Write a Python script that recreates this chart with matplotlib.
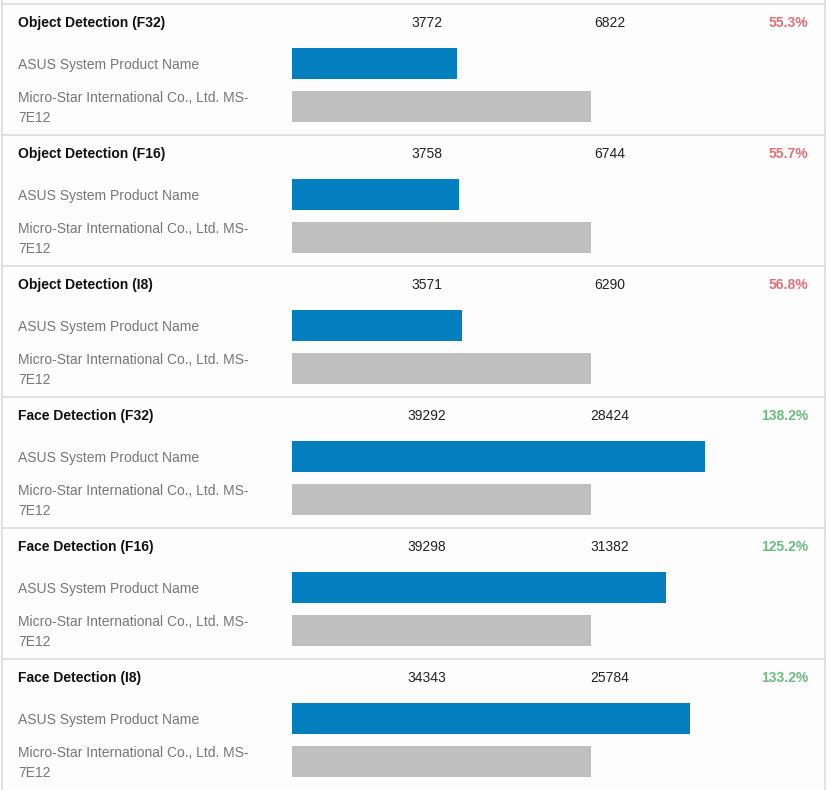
import matplotlib
matplotlib.use("Agg")
import matplotlib.pyplot as plt
from matplotlib.lines import Line2D

plt.rcParams['font.family'] = ['Liberation Sans', 'DejaVu Sans']

tests = ["Object Detection (F32)", "Object Detection (F16)", "Object Detection (I8)",
         "Face Detection (F32)", "Face Detection (F16)", "Face Detection (I8)"]
asus_scores = [3772, 3758, 3571, 39292, 39298, 34343]
msi_scores = [6822, 6744, 6290, 28424, 31382, 25784]
percents = ["55.3%", "55.7%", "56.8%", "138.2%", "125.2%", "133.2%"]
systems = ["ASUS System Product Name", "Micro-Star International Co., Ltd. MS-\n7E12"]

W, H = 828, 790
fig = plt.figure(figsize=(W / 100, H / 100), dpi=100)
fig.patch.set_facecolor("#fdfdfd")

BLUE = "#037fc0"
GRAY = "#bfbfbf"
RED = "#e0707a"
GREEN = "#6dbb80"
LINE = "#dcdcdc"
FS = 10

def fx(px):
    return px / W

def fy(py):
    return 1 - py / H

# borders
fig.add_artist(Line2D([fx(2), fx(2)], [fy(0), fy(790)], color=LINE, lw=1.2))
fig.add_artist(Line2D([fx(825), fx(825)], [fy(0), fy(790)], color=LINE, lw=1.2))

group_h = 131
top0 = 4
bar_left = 292
gray_px = 299
bar_right_edge = 825

for i, name in enumerate(tests):
    top = top0 + i * group_h
    fig.add_artist(Line2D([fx(2), fx(825)], [fy(top), fy(top)], color=LINE, lw=1.2))
    hb = top + 23
    fig.text(fx(18), fy(hb), name, fontsize=FS, fontweight="bold",
             color="#111111", ha="left", va="baseline")
    fig.text(fx(427), fy(hb), str(asus_scores[i]), fontsize=FS,
             color="#222222", ha="center", va="baseline")
    fig.text(fx(610), fy(hb), str(msi_scores[i]), fontsize=FS,
             color="#222222", ha="center", va="baseline")
    pc = float(percents[i].rstrip('%'))
    fig.text(fx(808), fy(hb), percents[i], fontsize=FS, fontweight="bold",
             color=GREEN if pc >= 100 else RED, ha="right", va="baseline")
    fig.text(fx(18), fy(top + 65), systems[0], fontsize=FS, color="#777777",
             ha="left", va="baseline")
    for k, line in enumerate(systems[1].split("\n")):
        fig.text(fx(18), fy(top + 98 + 20 * k), line, fontsize=FS, color="#777777",
                 ha="left", va="baseline")

    # bar axes for this group
    ax_top = top + 38
    ax_bot = top + 124
    ax = fig.add_axes([fx(bar_left), fy(ax_bot), fx(bar_right_edge - bar_left),
                       (ax_bot - ax_top) / H])
    ax.set_axis_off()
    ref = msi_scores[i]
    ax.set_xlim(0, ref * (bar_right_edge - bar_left) / gray_px)
    ax.set_ylim(-0.5, 1.5)
    ax.invert_yaxis()
    ax.barh([0, 1], [asus_scores[i], msi_scores[i]], height=0.70,
            color=[BLUE, GRAY], left=0)

fig.savefig("out.png", dpi=100, facecolor=fig.get_facecolor())
